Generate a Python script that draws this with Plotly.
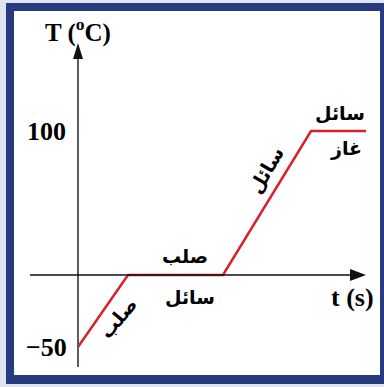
import plotly.graph_objects as go

# heating curve data (schematic)
time_s = [0, 1, 2.9, 4.66, 5.76]
temp_c = [-50, 0, 0, 100, 100]
tick_vals = [100, -50]
tick_text = ["100", "\u221250"]

W, H = 384, 387
# pixel placement of the origin and scale
X0, XS = 78, 50.0      # px of t=0, px per second
Y0, YS = 275, 1.44     # px of T=0, px per degree

def dx(px):
    return (px - X0) / XS

def dy(py):
    return (Y0 - py) / YS

def pp(px, py):
    return px / W, 1 - py / H

fig = go.Figure()

fig.add_trace(go.Scatter(
    x=time_s, y=temp_c, mode="lines",
    line=dict(color="#d7222b", width=2.5),
    hoverinfo="skip", showlegend=False
))

shapes = []
# outer frame
shapes.append(dict(type="rect", xref="paper", yref="paper",
                   x0=6 / W, x1=384 / W, y0=1 - 384 / H, y1=1 - 3 / H,
                   fillcolor="#263b80", line=dict(width=0), layer="below"))
shapes.append(dict(type="rect", xref="paper", yref="paper",
                   x0=14 / W, x1=380 / W, y0=1 - 375 / H, y1=1 - 11 / H,
                   fillcolor="white", line=dict(width=0), layer="below"))
# axes
shapes.append(dict(type="line", x0=0, x1=0, y0=dy(367), y1=dy(56),
                   line=dict(color="#5c5c5c", width=2)))
shapes.append(dict(type="line", x0=dx(30), x1=dx(354), y0=0, y1=0,
                   line=dict(color="#111111", width=1.5)))
# arrow heads
shapes.append(dict(type="path",
                   path=f"M {dx(78)},{dy(43)} L {dx(73)},{dy(59)} L {dx(83)},{dy(59)} Z",
                   fillcolor="#111111", line=dict(width=0)))
shapes.append(dict(type="path",
                   path=f"M {dx(366)},0 L {dx(350)},{dy(Y0 - 6)} L {dx(350)},{dy(Y0 + 6)} Z",
                   fillcolor="#111111", line=dict(width=0)))

serif = "Liberation Serif, Times New Roman, serif"
arab = "DejaVu Sans, sans-serif"

ann = []
for v, t in zip(tick_vals, tick_text):
    ann.append(dict(x=46 / W, xref="paper", y=v, yref="y", text=f"<b>{t}</b>",
                    xanchor="center", yanchor="middle",
                    showarrow=False, font=dict(family=serif, size=26, color="black")))
x, y = pp(78, 30)
ann.append(dict(x=x, y=y, xref="paper", yref="paper", text="<b>T (<sup>o</sup>C)</b>",
                xanchor="center", yanchor="middle",
                showarrow=False, font=dict(family=serif, size=25, color="black")))
x, y = pp(352, Y0 + 22)
ann.append(dict(x=x, y=y, xref="paper", yref="paper", text="<b>t (s)</b>",
                xanchor="center", yanchor="middle",
                showarrow=False, font=dict(family=serif, size=26, color="black")))

labels = [
    ("صلب", 185, Y0 - 19, 0),
    ("سائل", 190, Y0 + 22, 0),
    ("صلب", 118, 318, -50),
    ("سائل", 266, 170, -60),
    ("سائل", 340, 113, 0),
    ("غاز", 346, 149, 0),
]
for t, px, py, ang in labels:
    x, y = pp(px, py)
    ann.append(dict(x=x, y=y, xref="paper", yref="paper", text=f"<b>{t}</b>",
                    xanchor="center", yanchor="middle",
                    textangle=ang, showarrow=False,
                    font=dict(family=arab, size=19, color="black")))

fig.update_layout(
    width=W, height=H,
    margin=dict(l=0, r=0, t=0, b=0),
    paper_bgcolor="#e0e4f1",
    plot_bgcolor="rgba(0,0,0,0)",
    xaxis=dict(range=[dx(0), dx(W)], visible=False, fixedrange=True),
    yaxis=dict(range=[dy(H), dy(0)], visible=False, fixedrange=True),
    shapes=shapes,
    annotations=ann,
)

fig.write_html("out.html", config={"displayModeBar": False},
               post_script="document.body.style.margin='0';")
